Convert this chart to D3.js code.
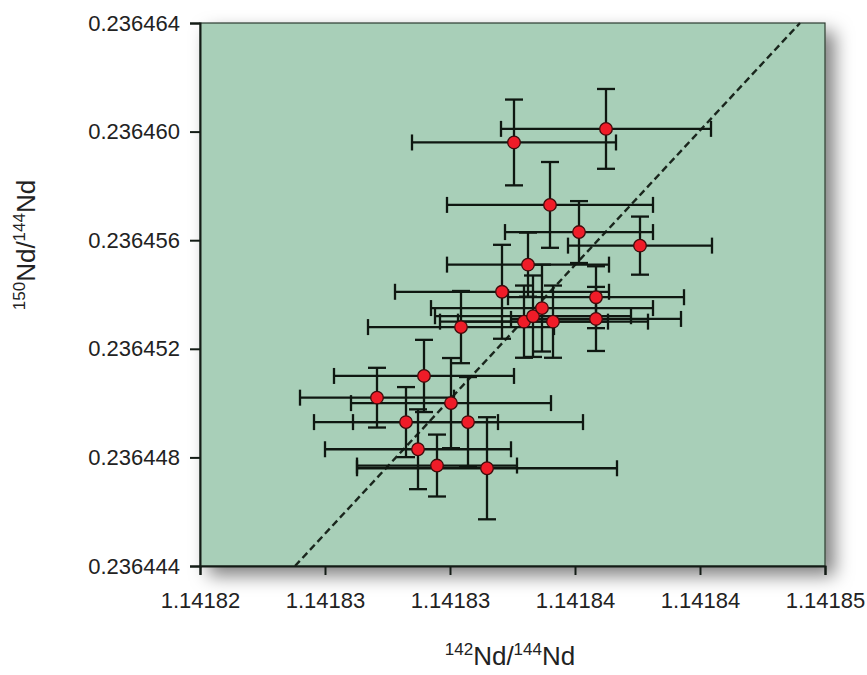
<!DOCTYPE html>
<html>
<head>
<meta charset="utf-8">
<title>Nd isotope ratios</title>
<style>
  body { margin: 0; background: #fff; }
  text { font-family: "Liberation Sans", Arial, sans-serif; fill: #222; }
</style>
</head>
<body>
<div class="plot_container"></div>
<script src="https://cdnjs.cloudflare.com/ajax/libs/d3/7.8.5/d3.min.js"></script>
<script>
// measured ratios (142Nd/144Nd, 150Nd/144Nd) with 2 sigma errors
var xValues = [1.14183624, 1.14183256, 1.14183400, 1.14183516, 1.14183760, 1.14183312,
               1.14183208, 1.14183584, 1.14183044, 1.14183296, 1.14183332, 1.14183368,
               1.14183412, 1.14183584, 1.14182896, 1.14182708, 1.14183004, 1.14182824,
               1.14183072, 1.14182872, 1.14182948, 1.14183148];
var yValues = [0.2364601, 0.2364596, 0.2364573, 0.2364563, 0.2364558, 0.2364551,
               0.2364541, 0.2364539, 0.2364528, 0.2364530, 0.2364532, 0.2364535,
               0.2364530, 0.2364531, 0.2364510, 0.2364502, 0.2364500, 0.2364493,
               0.2364493, 0.2364483, 0.2364477, 0.2364476];
var xErrors = [4.20e-6, 4.08e-6, 4.12e-6, 2.96e-6, 2.88e-6, 3.24e-6,
               4.28e-6, 3.52e-6, 3.72e-6, 3.36e-6, 3.92e-6, 4.44e-6,
               3.80e-6, 3.40e-6, 3.60e-6, 3.08e-6, 4.00e-6, 3.68e-6,
               4.60e-6, 3.72e-6, 3.20e-6, 5.20e-6];
var yErrors = [1.47e-6, 1.58e-6, 1.58e-6, 1.14e-6, 1.07e-6, 1.18e-6,
               1.73e-6, 1.14e-6, 1.33e-6, 1.33e-6, 1.50e-6, 1.60e-6,
               1.33e-6, 1.18e-6, 1.33e-6, 1.10e-6, 1.66e-6, 1.29e-6,
               1.66e-6, 1.47e-6, 1.14e-6, 1.88e-6];

// dashed reference line end points
var refLineX = [1.1418238, 1.1418440];
var refLineY = [0.236444, 0.236464];

var xTickValues = [1.141820, 1.141825, 1.141830, 1.141835, 1.141840, 1.141845];
var xTickLabels = ["1.14182", "1.14183", "1.14183", "1.14184", "1.14184", "1.14185"];
var yTickValues = [0.236444, 0.236448, 0.236452, 0.236456, 0.236460, 0.236464];
var yTickLabels = ["0.236444", "0.236448", "0.236452", "0.236456", "0.236460", "0.236464"];

var width = 867;
var height = 675;
var padLeft = 200, padRight = 825, padTop = 23, padBottom = 566;

var svg = d3.select(".plot_container").append("svg")
    .attr("width", width)
    .attr("height", height);

var defs = svg.append("defs");
var shadow = defs.append("filter").attr("id", "shadow")
    .attr("x", "-10%").attr("y", "-10%").attr("width", "130%").attr("height", "130%");
shadow.append("feDropShadow")
    .attr("dx", 9).attr("dy", 9).attr("stdDeviation", 9)
    .attr("flood-color", "#000").attr("flood-opacity", 0.5);

var x = d3.scaleLinear().domain([xTickValues[0], xTickValues[5]]).range([padLeft, padRight]);
var y = d3.scaleLinear().domain([yTickValues[0], yTickValues[5]]).range([padBottom, padTop]);

// panel
svg.append("rect")
    .attr("x", padLeft).attr("y", padTop)
    .attr("width", padRight - padLeft).attr("height", padBottom - padTop)
    .attr("fill", "#a8cfb8")
    .attr("stroke", "#2c3b30")
    .attr("stroke-width", 1.2)
    .attr("filter", "url(#shadow)");

// reference line
svg.append("line")
    .attr("x1", x(refLineX[0])).attr("y1", y(refLineY[0]))
    .attr("x2", x(refLineX[1])).attr("y2", y(refLineY[1]))
    .attr("stroke", "#1a261d")
    .attr("stroke-width", 2.4)
    .attr("stroke-dasharray", "7,4");

// axes
var xAxis = d3.axisBottom(x).tickValues(xTickValues)
    .tickFormat(function(d, i){ return xTickLabels[i]; })
    .tickSize(9).tickPadding(17);
var yAxis = d3.axisLeft(y).tickValues(yTickValues)
    .tickFormat(function(d, i){ return yTickLabels[i]; })
    .tickSize(10).tickPadding(10);

var gx = svg.append("g").attr("transform", "translate(0," + padBottom + ")").call(xAxis);
var gy = svg.append("g").attr("transform", "translate(" + padLeft + ",0)").call(yAxis);
gx.select(".domain").attr("stroke", "#141c16").attr("stroke-width", 2);
gy.select(".domain").attr("stroke", "#141c16").attr("stroke-width", 2);
gx.selectAll(".tick line").attr("stroke", "#141c16").attr("stroke-width", 2);
gy.selectAll(".tick line").attr("stroke", "#141c16").attr("stroke-width", 2);
gx.selectAll("text").attr("font-size", 22).attr("fill", "#222")
    .attr("font-family", "'Liberation Sans', Arial, sans-serif");
gy.selectAll("text").attr("font-size", 22).attr("fill", "#222")
    .attr("font-family", "'Liberation Sans', Arial, sans-serif");

// error bars
var capX = 8, capY = 9;
var bars = svg.append("g").attr("stroke", "#0f1711").attr("stroke-width", 2.3);
var idx = d3.range(xValues.length);

bars.selectAll(".hbar").data(idx).enter().append("line")
    .attr("x1", function(i){ return x(xValues[i] - xErrors[i]); })
    .attr("x2", function(i){ return x(xValues[i] + xErrors[i]); })
    .attr("y1", function(i){ return y(yValues[i]); })
    .attr("y2", function(i){ return y(yValues[i]); });
bars.selectAll(".hcapl").data(idx).enter().append("line")
    .attr("x1", function(i){ return x(xValues[i] - xErrors[i]); })
    .attr("x2", function(i){ return x(xValues[i] - xErrors[i]); })
    .attr("y1", function(i){ return y(yValues[i]) - capX; })
    .attr("y2", function(i){ return y(yValues[i]) + capX; });
bars.selectAll(".hcapr").data(idx).enter().append("line")
    .attr("x1", function(i){ return x(xValues[i] + xErrors[i]); })
    .attr("x2", function(i){ return x(xValues[i] + xErrors[i]); })
    .attr("y1", function(i){ return y(yValues[i]) - capX; })
    .attr("y2", function(i){ return y(yValues[i]) + capX; });
bars.selectAll(".vbar").data(idx).enter().append("line")
    .attr("x1", function(i){ return x(xValues[i]); })
    .attr("x2", function(i){ return x(xValues[i]); })
    .attr("y1", function(i){ return y(yValues[i] + yErrors[i]); })
    .attr("y2", function(i){ return y(yValues[i] - yErrors[i]); });
bars.selectAll(".vcapt").data(idx).enter().append("line")
    .attr("x1", function(i){ return x(xValues[i]) - capY; })
    .attr("x2", function(i){ return x(xValues[i]) + capY; })
    .attr("y1", function(i){ return y(yValues[i] + yErrors[i]); })
    .attr("y2", function(i){ return y(yValues[i] + yErrors[i]); });
bars.selectAll(".vcapb").data(idx).enter().append("line")
    .attr("x1", function(i){ return x(xValues[i]) - capY; })
    .attr("x2", function(i){ return x(xValues[i]) + capY; })
    .attr("y1", function(i){ return y(yValues[i] - yErrors[i]); })
    .attr("y2", function(i){ return y(yValues[i] - yErrors[i]); });

// points
svg.selectAll(".dot").data(idx).enter().append("circle")
    .attr("class", "dot")
    .attr("cx", function(i){ return x(xValues[i]); })
    .attr("cy", function(i){ return y(yValues[i]); })
    .attr("r", 6.3)
    .attr("fill", "#f01c28")
    .attr("stroke", "#3e0c0c")
    .attr("stroke-width", 1.3);

// axis titles
var xt = svg.append("text")
    .attr("x", 510).attr("y", 665)
    .attr("text-anchor", "middle")
    .attr("font-size", 26);
xt.append("tspan").attr("font-size", 17).attr("dy", -10).text("142");
xt.append("tspan").attr("dy", 10).text("Nd/");
xt.append("tspan").attr("font-size", 17).attr("dy", -10).text("144");
xt.append("tspan").attr("dy", 10).text("Nd");

var yt = svg.append("text")
    .attr("transform", "translate(35,245) rotate(-90)")
    .attr("text-anchor", "middle")
    .attr("font-size", 26);
yt.append("tspan").attr("font-size", 17).attr("dy", -10).text("150");
yt.append("tspan").attr("dy", 10).text("Nd/");
yt.append("tspan").attr("font-size", 17).attr("dy", -10).text("144");
yt.append("tspan").attr("dy", 10).text("Nd");
</script>
</body>
</html>
